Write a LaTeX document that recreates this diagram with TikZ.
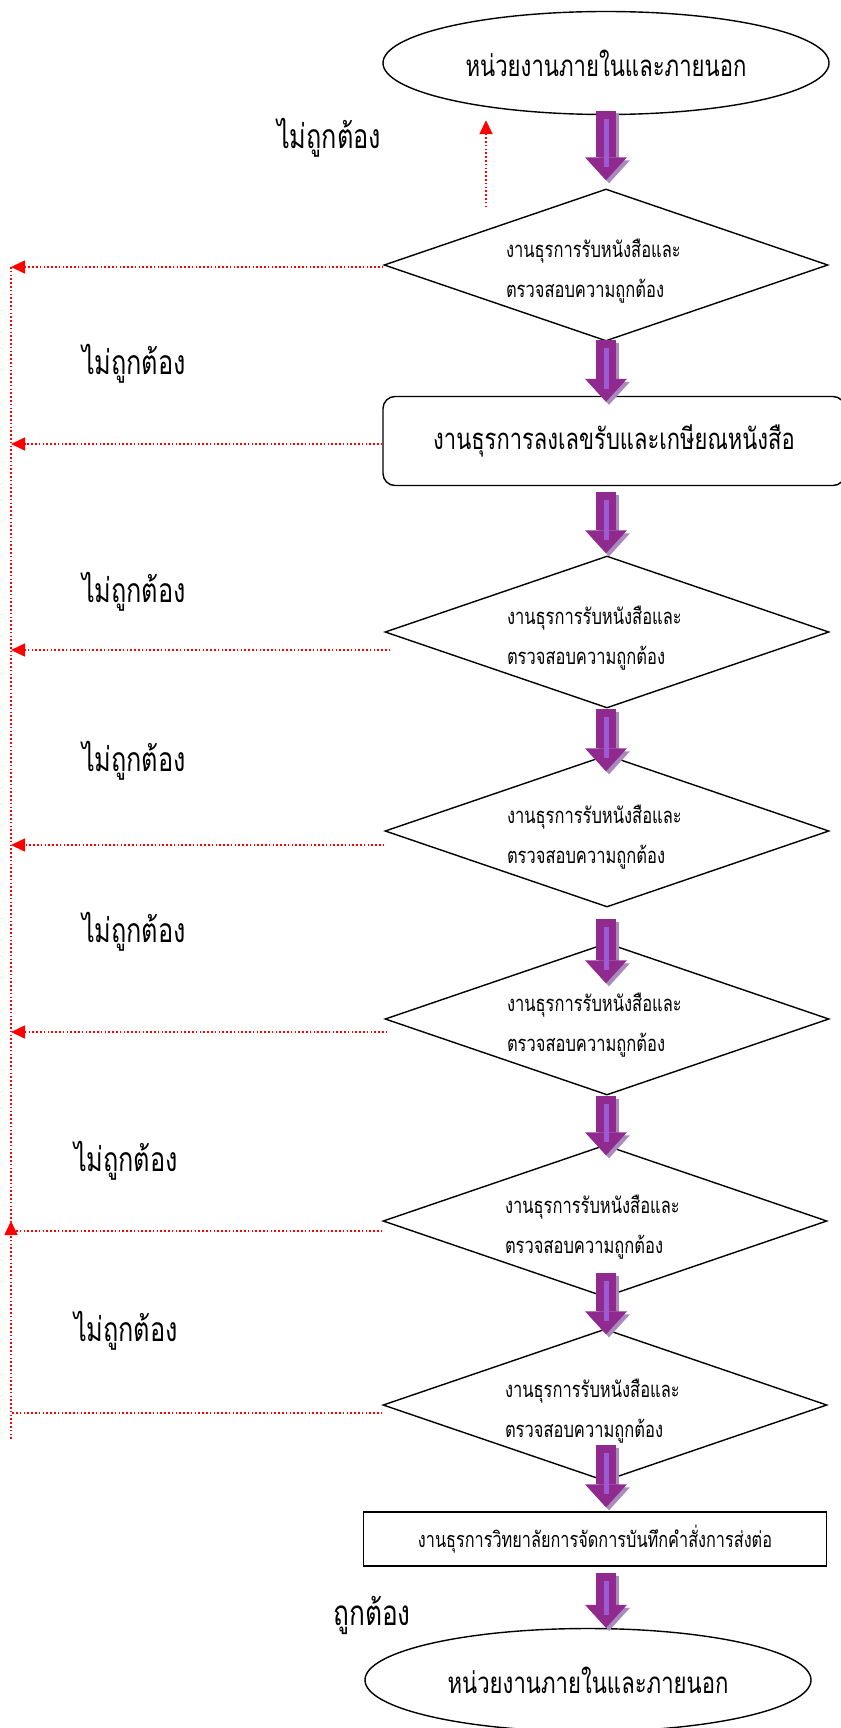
\documentclass[tikz,border=0pt]{standalone}
\usepackage{fontspec}
\newfontfamily\thaifont[Script=Thai, FakeStretch=0.75]{Loma}
\usetikzlibrary{arrows.meta,shapes.geometric}

\definecolor{flowpurple}{HTML}{912A8E}
\definecolor{flowcore}{HTML}{9C5AD3}
\definecolor{flowshade}{HTML}{A88ABF}

\begin{document}
\begin{tikzpicture}[x=1pt, y=-1pt,
  unit/.style={ellipse, draw, line width=1.4pt, minimum width=446pt, minimum height=103pt,
    font=\thaifont\fontsize{29.5}{33}\selectfont},
  check/.style={diamond, draw, line width=1.4pt, shape aspect=2.9, minimum width=444pt,
    minimum height=152pt, inner sep=0pt, text width=200pt, text height=20pt, text depth=35pt,
    align=left, font=\thaifont\fontsize{22}{40}\selectfont},
  work/.style={draw, line width=1.4pt, minimum width=462pt, minimum height=89pt, rounded corners=12pt,
    font=\thaifont\fontsize{29.3}{33}\selectfont},
  note/.style={font=\thaifont\fontsize{33.7}{38}\selectfont},
  flow/.style={line width=20pt, draw=flowpurple, -{Triangle[width=42pt, length=23pt, line width=0pt]}},
  flowshadow/.style={flow, draw=flowshade, fill=flowshade, transform canvas={xshift=3pt, yshift=-3pt}},
  flowstripe/.style={line width=5pt, draw=flowcore},
  wrongline/.style={red, line width=1.6pt, dash pattern=on 1.6pt off 2.2pt},
  wrong/.style={wrongline, -{Triangle[width=13pt, length=14pt]}}]
  \useasboundingbox (0,0) rectangle (840,1728);

  % Main column
  \coordinate (axis) at (606,0);
  \node[unit] (top) at (606,63) {หน่วยงานภายในและภายนอก};
  \node[check] (d1) at (606,265) {งานธุรการรับหนังสือและ\\ตรวจสอบความถูกต้อง};
  \node[work] (r1) at (614,441) {งานธุรการลงเลขรับและเกษียณหนังสือ};
  \node[check] (d2) at (607,632) {งานธุรการรับหนังสือและ\\ตรวจสอบความถูกต้อง};
  \node[check] (d3) at (607,831) {งานธุรการรับหนังสือและ\\ตรวจสอบความถูกต้อง};
  \node[check] (d4) at (607,1019) {งานธุรการรับหนังสือและ\\ตรวจสอบความถูกต้อง};
  \node[check] (d5) at (605,1221) {งานธุรการรับหนังสือและ\\ตรวจสอบความถูกต้อง};
  \node[check] (d6) at (605,1405) {งานธุรการรับหนังสือและ\\ตรวจสอบความถูกต้อง};
  \node[draw, line width=1.4pt, minimum width=463pt, minimum height=54pt,
    font=\thaifont\fontsize{21.7}{24}\selectfont] (r2) at (595,1539)
    {งานธุรการวิทยาลัยการจัดการบันทึกคำสั่งการส่งต่อ};
  \node[unit] (bot) at (588,1680) {หน่วยงานภายในและภายนอก};

  % Labels
  \node[note] (n0) at (329,138) {ไม่ถูกต้อง};
  \node[note] (n1) at (134,364) {ไม่ถูกต้อง};
  \node[note] (n2) at (134,592) {ไม่ถูกต้อง};
  \node[note] (n3) at (134,761) {ไม่ถูกต้อง};
  \node[note] (n4) at (134,932) {ไม่ถูกต้อง};
  \node[note] (n5) at (126,1161) {ไม่ถูกต้อง};
  \node[note] (n6) at (126,1331) {ไม่ถูกต้อง};
  \node[note, font=\thaifont\fontsize{35}{38}\selectfont] (ok) at (372,1615) {ถูกต้อง};

  % Purple block arrows
  \foreach \a/\b/\p/\q in {top/d1/-4/8, d1/r1/-2/-6, r1/d2/6/2, d2/d3/0/-17, d3/d4/11/-41,
      d4/d5/0/-11, d5/d6/-25/-6, d6/r2/-37/4, r2/bot/6/0} {
    \draw[flowshadow, shorten <=\p pt, shorten >=\q pt] (\a.south -| axis) -- (\b.north -| axis);
    \draw[flow, shorten <=\p pt, shorten >=\q pt] (\a.south -| axis) -- (\b.north -| axis);
    \draw[flowstripe, shorten <={\p pt+8pt}, shorten >={\q pt+13pt}] (\a.south -| axis) -- (\b.north -| axis);
  }

  % Return lines (red, dotted)
  \coordinate (rail) at (11,0);
  \coordinate (w1) at ([yshift=-2pt]d1.west);
  \coordinate (w2) at ([yshift=-3pt]r1.west);
  \coordinate (w3) at ([shift={(6,18)}]d2.west);
  \coordinate (w4) at ([yshift=-14pt]d3.west);
  \coordinate (w5) at ([shift={(3,13)}]d4.west);
  \coordinate (w6) at ([yshift=-10pt]d5.west);
  \coordinate (w7) at ([yshift=-8pt]d6.west);
  \coordinate (railtip) at (11,1221);
  \coordinate (railend) at (11,1439);
  \coordinate (up1) at ([shift={(-120,19)}]d1.north);
  \coordinate (up2) at ([shift={(-120,5)}]top.south);

  \draw[wrong] (up1) -- (up2);
  \draw[wrong] (w1) -- (w1 -| rail);
  \draw[wrong] (w2) -- (w2 -| rail);
  \draw[wrong] (w3) -- (w3 -| rail);
  \draw[wrong] (w4) -- (w4 -| rail);
  \draw[wrong] (w5) -- (w5 -| rail);
  \draw[wrongline] (w6) -- (w6 -| rail);
  \draw[wrongline] (w7) -- (w7 -| rail);
  \draw[wrongline] (w1 -| rail) -- (railtip);
  \draw[wrong] (railend) -- (railtip);
\end{tikzpicture}
\end{document}
